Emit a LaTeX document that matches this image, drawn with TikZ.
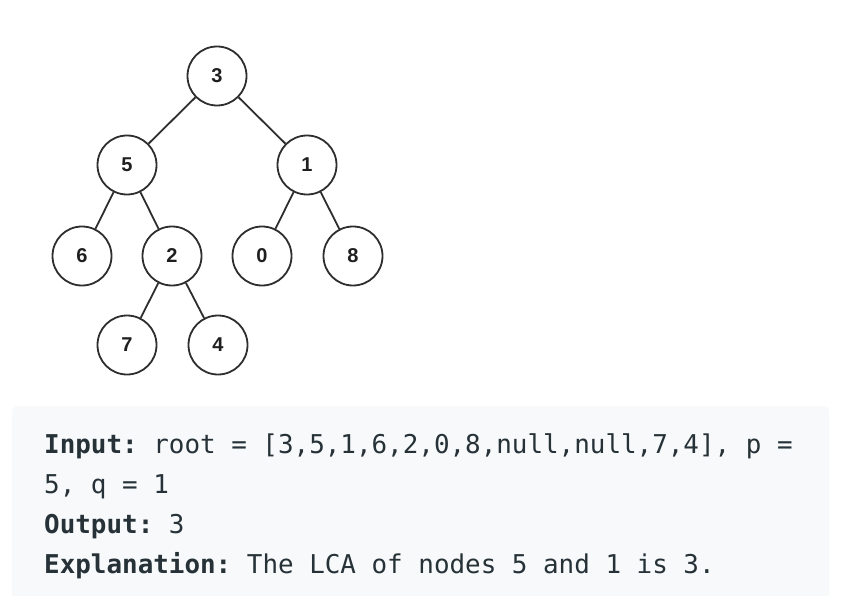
\documentclass[tikz,border=0pt]{standalone}
\usepackage{fontspec}
\setmainfont{Liberation Sans}
\newfontfamily\codefont[WordSpace={1,0,0}]{DejaVu Sans Mono}
\definecolor{boxbg}{HTML}{F7F9FA}
\definecolor{codetext}{HTML}{263238}
\definecolor{edgecol}{HTML}{2E2E2E}
\tikzset{
  treenode/.style={circle, draw=edgecol, line width=1.8pt, minimum size=59pt, inner sep=0pt, font=\bfseries\fontsize{20}{20}\selectfont, text=black!88},
  treeedge/.style={draw=edgecol, line width=1.8pt},
  codeline/.style={anchor=base west, inner sep=0pt, text=codetext, font=\codefont\fontsize{25.9}{25.9}\selectfont}
}
\frenchspacing
\begin{document}
\begin{tikzpicture}[x=1pt,y=-1pt]
\useasboundingbox (0,0) rectangle (864,596);
\fill[white] (0,0) rectangle (864,596);
\fill[boxbg, rounded corners=6pt] (12,406) rectangle (829,620);
\fill[white] (0,596) rectangle (864,630);
\node[treenode] (n3) at (217,76) {3};
\node[treenode] (n5) at (127,165) {5};
\node[treenode] (n1) at (307,165) {1};
\node[treenode] (n6) at (82,256) {6};
\node[treenode] (n2) at (172,256) {2};
\node[treenode] (n0) at (262,256) {0};
\node[treenode] (n8) at (353,256) {8};
\node[treenode] (n7) at (127,345) {7};
\node[treenode] (n4) at (218,345) {4};
\draw[treeedge] (n3) -- (n5);
\draw[treeedge] (n3) -- (n1);
\draw[treeedge] (n5) -- (n6);
\draw[treeedge] (n5) -- (n2);
\draw[treeedge] (n1) -- (n0);
\draw[treeedge] (n1) -- (n8);
\draw[treeedge] (n2) -- (n7);
\draw[treeedge] (n2) -- (n4);
\node[codeline] (l1) at (44,453) {\frenchspacing\textbf{Input:} root = [3,5,1,6,2,0,8,null,null,7,4], p =};
\node[codeline] (l2) at (44,493) {5, q = 1};
\node[codeline] (l3) at (44,533) {\frenchspacing\textbf{Output:} 3};
\node[codeline] (l4) at (44,573) {\frenchspacing\textbf{Explanation:} The LCA of nodes 5 and 1 is 3.};
\end{tikzpicture}
\end{document}
